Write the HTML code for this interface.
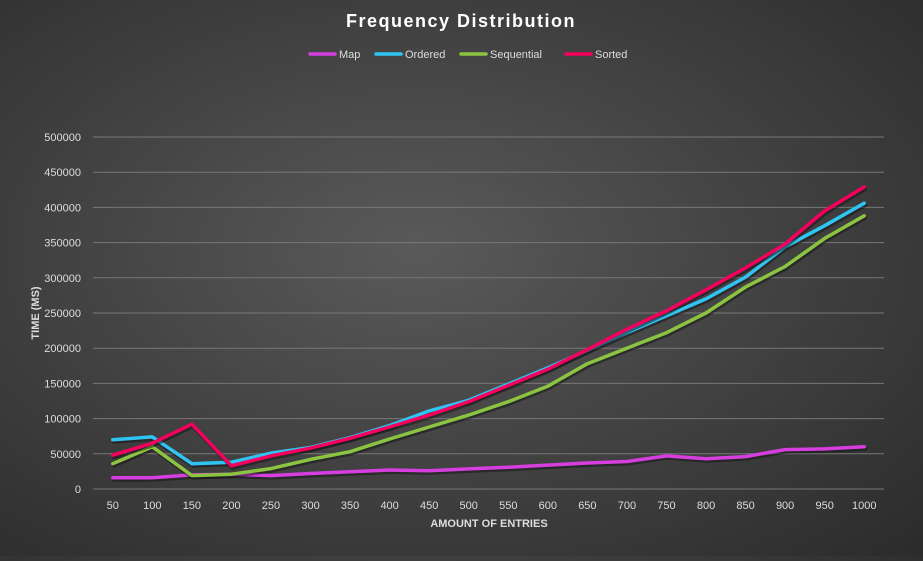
<!DOCTYPE html>
<html><head><meta charset="utf-8"><style>
html,body{margin:0;padding:0;}
body{width:923px;height:556px;overflow:hidden;background:radial-gradient(ellipse at 45% 45%,#5a5a5a 0%,#444 45%,#2b2b2b 100%);font-family:"Liberation Sans",sans-serif;}
</style></head><body>
<svg id="chart" width="923" height="556" xmlns="http://www.w3.org/2000/svg"></svg>
<script>
const categories=[50,100,150,200,250,300,350,400,450,500,550,600,650,700,750,800,850,900,950,1000];
const mapVals=[16000,16000,20000,21000,19000,22000,24500,27000,26000,28500,31000,34000,37000,39000,47000,43000,46000,56000,57000,60000];
const orderedVals=[70000,74000,36000,38000,51000,59000,73000,90000,111000,126000,149000,172000,197000,222000,246000,270000,301000,344000,374000,406000];
const sequentialVals=[36000,60000,19000,21000,29000,42000,53000,71000,88000,105000,124000,146000,178000,200000,222000,250000,287000,316000,356000,388000];
const sortedVals=[48000,65000,92000,33000,47000,58000,72000,88000,105000,124000,147000,170000,198000,227000,253000,283000,314000,348000,395000,429000];
const yTicks=[0,50000,100000,150000,200000,250000,300000,350000,400000,450000,500000];
const seriesNames=["Map","Ordered","Sequential","Sorted"];
const colors=["#d63ee0","#2fc4f2","#8bc441","#f5005c"];
const svg=document.getElementById('chart');
const NS='http://www.w3.org/2000/svg';
const x0=93,x1=884,y0=489,yTop=137;
const step=(x1-x0)/categories.length;
const xs=i=>x0+step*(i+0.5);
const ys=v=>y0-(v/500000)*(y0-yTop);
function mk(t,a,txt){const e=document.createElementNS(NS,t);for(const k in a)e.setAttribute(k,a[k]);if(txt!==undefined)e.textContent=txt;svg.appendChild(e);return e;}
let e;
e=mk('text',{x:461,y:27,'text-anchor':'middle','font-size':18,'font-weight':'bold',fill:'#fff','letter-spacing':'1.5'},'Frequency  Distribution');


yTicks.forEach(t=>{
 e=mk('line',{x1:x0,x2:x1,y1:ys(t),y2:ys(t),stroke:'#777','stroke-width':1});
 
 
 e=mk('text',{x:81,y:ys(t)+4,'text-anchor':'end','font-size':11,fill:'#ddd'},String(t));
 
 
});
categories.forEach((c,i)=>{
 e=mk('text',{x:xs(i),y:509,'text-anchor':'middle','font-size':11,fill:'#ddd'},String(c));
 
 
});
e=mk('text',{x:489,y:527,'text-anchor':'middle','font-size':11,'font-weight':'bold',fill:'#ddd'},'AMOUNT OF ENTRIES');


e=mk('text',{x:0,y:0,'text-anchor':'middle','font-size':11,'font-weight':'bold',fill:'#ddd',transform:'translate(39,313) rotate(-90)'},'TIME (MS)');


[mapVals,orderedVals,sequentialVals,sortedVals].forEach((vals,s)=>{
 const pts=vals.map((v,i)=>xs(i).toFixed(1)+','+ys(v).toFixed(1)).join(' ');
 e=mk('polyline',{points:pts,fill:'none',stroke:'#111','stroke-opacity':0.5,'stroke-width':4,'stroke-linejoin':'round','stroke-linecap':'round',transform:'translate(1,2)'});
 
 
 e=mk('polyline',{points:pts,fill:'none',stroke:colors[s],'stroke-width':3.5,'stroke-linejoin':'round','stroke-linecap':'round'});
 
 
});
const legX=[310,376,461,566];
seriesNames.forEach((n,s)=>{
 e=mk('line',{x1:legX[s],x2:legX[s]+25,y1:54,y2:54,stroke:colors[s],'stroke-width':3.5,'stroke-linecap':'round'});
 
 
 e=mk('text',{x:legX[s]+29,y:58,'font-size':11,fill:'#ddd'},n);
 
 
});
</script>
</body></html>
